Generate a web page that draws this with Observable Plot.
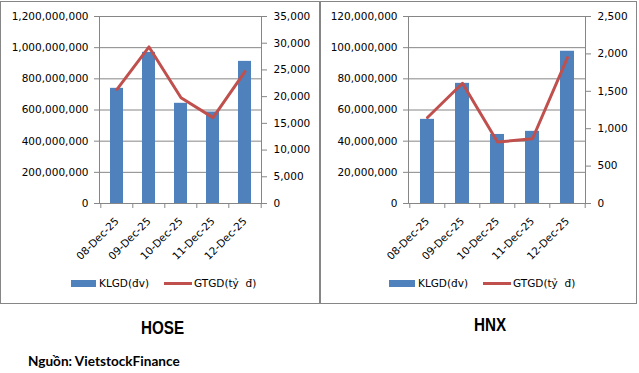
<!DOCTYPE html>
<html><head><meta charset="utf-8">
<script src="https://cdn.jsdelivr.net/npm/d3@7"></script>
<script src="https://cdn.jsdelivr.net/npm/@observablehq/plot@0.6"></script>
<style>
body{margin:0;background:#fff;}
#wrap{position:relative;width:639px;height:373px;background:#fff;overflow:hidden;font-family:"DejaVu Sans",sans-serif;}
.panel{position:absolute;border:1px solid #868686;box-sizing:border-box;top:1px;height:303px;}
.chart{position:absolute;top:0;}
.leg{position:absolute;font-size:10.5px;line-height:12px;color:#000;white-space:pre;}
.sw{position:absolute;}
.title{position:absolute;font-family:"Liberation Sans",Arial,sans-serif;font-weight:bold;font-size:19px;line-height:19px;text-align:center;color:#000;transform:scaleX(0.8);transform-origin:center;}
.src{position:absolute;left:28px;top:354px;font-family:Lato,sans-serif;font-weight:bold;font-size:13.6px;line-height:15.6px;color:#000;white-space:nowrap;}
</style></head>
<body>
<div id="wrap">
  <div class="panel" style="left:0;width:320px;"></div>
  <div class="panel" style="left:320px;width:317px;"></div>
  <div id="c1" class="chart" style="left:0;"></div>
  <div id="c2" class="chart" style="left:320px;"></div>

  <div class="sw" style="left:71px;top:280px;width:25px;height:7px;background:#4F81BD;"></div>
  <div class="leg" style="left:99px;top:277px;">KLGD(đv)</div>
  <div class="sw" style="left:164px;top:282px;width:28px;height:3px;background:#C0504D;"></div>
  <div class="leg" style="left:194px;top:277px;">GTGD(tỷ  đ)</div>

  <div class="sw" style="left:389px;top:280px;width:26px;height:7px;background:#4F81BD;"></div>
  <div class="leg" style="left:418px;top:277px;">KLGD(đv)</div>
  <div class="sw" style="left:483px;top:282px;width:28px;height:3px;background:#C0504D;"></div>
  <div class="leg" style="left:513px;top:277px;">GTGD(tỷ  đ)</div>

  <div class="title" style="left:0;width:325px;top:318px;">HOSE</div>
  <div class="title" style="left:390px;width:200px;top:314.6px;">HNX</div>
  <div class="src">Nguồn: VietstockFinance</div>
</div>
<script>
const dates = ["08-Dec-25","09-Dec-25","10-Dec-25","11-Dec-25","12-Dec-25"];
const hoseKLGD = [739e6, 970e6, 643e6, 587e6, 912e6];
const hoseGTGD = [21370, 29300, 19800, 16070, 24690];
const hnxKLGD = [54.0e6, 77.1e6, 44.3e6, 46.3e6, 97.7e6];
const hnxGTGD = [1150, 1607, 821, 866, 1951];
const hoseLeftTicks = [0, 2e8, 4e8, 6e8, 8e8, 10e8, 12e8];
const hoseRightTicks = [0, 5000, 10000, 15000, 20000, 25000, 30000, 35000];
const hnxLeftTicks = [0, 20e6, 40e6, 60e6, 80e6, 100e6, 120e6];
const hnxRightTicks = [0, 500, 1000, 1500, 2000, 2500];

const grey = "#868686";
const fmt = d3.format(",");

function chart({klgd, gtgd, leftTicks, rightTicks, width, marginLeft, marginRight}) {
  const yMax = leftTicks[leftTicks.length - 1];
  const k = yMax / rightTicks[rightTicks.length - 1];
  const data = dates.map((d, i) => ({date: d, v: klgd[i], g: gtgd[i] * k}));
  const step = (width - marginLeft - marginRight) / dates.length;
  return Plot.plot({
    width, height: 270, marginLeft, marginRight, marginTop: 16, marginBottom: 67,
    style: {fontFamily: "DejaVu Sans", fontSize: "10.5px", color: "#000", background: "transparent", overflow: "visible"},
    x: {domain: dates, paddingInner: 0.6, paddingOuter: 0.3, label: null},
    y: {domain: [0, yMax], label: null},
    marks: [
      Plot.gridY(leftTicks, {stroke: grey, strokeOpacity: 1}),
      Plot.barY(data, {x: "date", y: "v", fill: "#4F81BD"}),
      Plot.ruleY([0], {stroke: grey}),
      Plot.frame({anchor: "left", stroke: grey}),
      Plot.frame({anchor: "right", stroke: grey}),
      Plot.lineY(data, {x: "date", y: "g", stroke: "#C0504D", strokeWidth: 3}),
      Plot.axisY(leftTicks, {anchor: "left", tickSize: 5, tickPadding: 6, tickFormat: fmt, stroke: grey, fill: "#000", label: null}),
      Plot.axisY(rightTicks.map(t => t * k), {anchor: "right", tickSize: 5, tickPadding: 7, tickFormat: d => fmt(Math.round(d / k)), stroke: grey, fill: "#000", label: null}),
      Plot.axisX({anchor: "bottom", tickSize: 0, tickPadding: 16, tickRotate: -45, fill: "#000", label: null}),
      Plot.axisX(dates, {anchor: "bottom", tickSize: 5, fill: "none", stroke: grey, dx: -step / 2, label: null}),
      Plot.axisX([dates[dates.length - 1]], {anchor: "bottom", tickSize: 5, fill: "none", stroke: grey, dx: step / 2, label: null})
    ]
  });
}

document.getElementById("c1").append(chart({klgd: hoseKLGD, gtgd: hoseGTGD, leftTicks: hoseLeftTicks, rightTicks: hoseRightTicks, width: 320, marginLeft: 99, marginRight: 59}));
document.getElementById("c2").append(chart({klgd: hnxKLGD, gtgd: hnxGTGD, leftTicks: hnxLeftTicks, rightTicks: hnxRightTicks, width: 317, marginLeft: 88, marginRight: 52}));
</script>
</body></html>
